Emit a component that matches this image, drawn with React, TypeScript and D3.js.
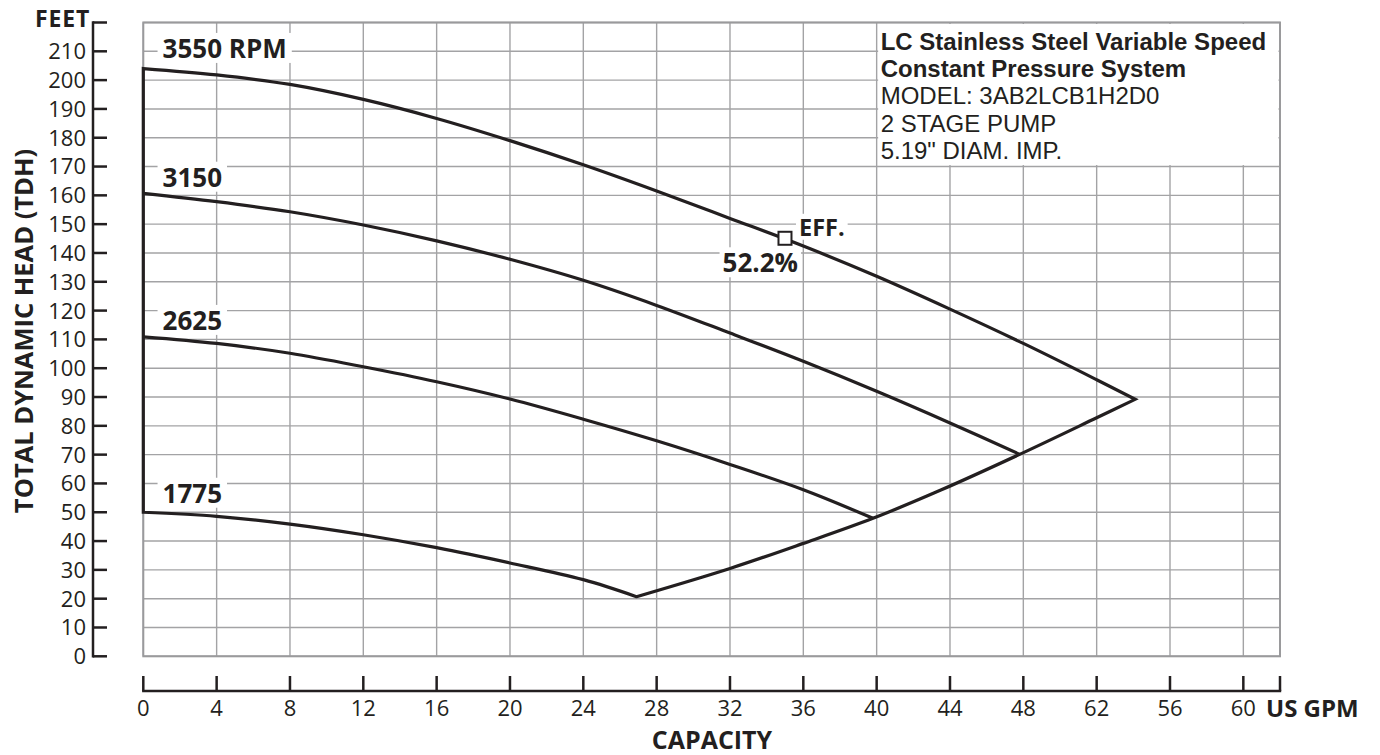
import React, { useEffect, useRef } from "react";
import * as d3 from "d3";

// pump curves, [gpm, feet]
const rpm3550 = [
  [0, 204], [4, 201.8], [8, 198.5], [12, 193.3], [16, 186.7], [20, 179], [24, 170.6],
  [28, 161.5], [32, 152], [36, 142.4], [40, 131.9], [44, 120.5], [48, 108.6], [52, 96], [54.1, 89.2],
];
const rpm3150 = [
  [0, 160.7], [4, 157.8], [8, 154.3], [12, 149.7], [16, 144.2], [20, 137.8], [24, 130.5],
  [28, 121.8], [32, 112.2], [36, 102.4], [40, 92], [44, 81], [47.8, 70.1],
];
const rpm2625 = [
  [0, 110.9], [4, 108.6], [8, 105.2], [12, 100.5], [16, 95.3], [20, 89.3], [24, 82.3],
  [28, 74.8], [32, 66.6], [36, 57.8], [39.8, 47.9],
];
const rpm1775 = [
  [0, 50], [4, 48.6], [8, 45.9], [12, 42.2], [16, 37.7], [20, 32.4], [24, 26.6], [26.9, 20.7],
];
// end-of-curve line
const endLine = [
  [26.9, 20.7], [32, 30.5], [36, 39.2], [39.8, 47.9], [43.5, 57.7], [47.8, 70.1], [52, 82.8], [54.1, 89.2],
];

const curveLabels = [
  { text: "3550 RPM", q: 1.05, h: 207.7 },
  { text: "3150", q: 1.05, h: 163 },
  { text: "2625", q: 1.05, h: 113.3 },
  { text: "1775", q: 1.05, h: 53.3 },
];

const effPoint = { q: 35, h: 145.1, label: "EFF.", value: "52.2%" };

const xTicks = d3.range(0, 61, 4);
const xTickLabels = ["0", "4", "8", "12", "16", "20", "24", "28", "32", "36", "40", "44", "48", "62", "56", "60"];
const yTicks = d3.range(0, 211, 10);

const infoLines = [
  { text: "LC Stainless Steel Variable Speed", bold: true },
  { text: "Constant Pressure System", bold: true },
  { text: "MODEL: 3AB2LCB1H2D0", bold: false },
  { text: "2 STAGE PUMP", bold: false },
  { text: '5.19" DIAM. IMP.', bold: false },
];

const FONT = "'Open Sans', 'Noto Sans', sans-serif";
const INFO_FONT = "'Liberation Sans', Arial, sans-serif";
const INK = "#231f20";

export default function App() {
  const ref = useRef<SVGSVGElement>(null);

  useEffect(() => {
    const svg = d3.select(ref.current);
    svg.selectAll("*").remove();

    const x = d3.scaleLinear().domain([0, 62]).range([143.3, 1280]);
    const y = d3.scaleLinear().domain([0, 220]).range([656.3, 22.5]);

    const g = svg.append("g").attr("font-family", FONT).attr("fill", INK);

    // grid
    const grid = g.append("g").attr("stroke", "#a3a3a5").attr("stroke-width", 1.4);
    grid.selectAll("line.h").data(d3.range(0, 221, 10)).enter().append("line")
      .attr("x1", x(0)).attr("x2", x(62)).attr("y1", (d) => y(d)).attr("y2", (d) => y(d));
    grid.selectAll("line.v").data(xTicks).enter().append("line")
      .attr("x1", (d) => x(d)).attr("x2", (d) => x(d)).attr("y1", y(0)).attr("y2", y(220));
    g.append("rect")
      .attr("x", x(0)).attr("y", y(220)).attr("width", x(62) - x(0)).attr("height", y(0) - y(220))
      .attr("fill", "none").attr("stroke", "#9a9a9c").attr("stroke-width", 2);

    // info box
    g.append("rect")
      .attr("x", x(40) + 1.5).attr("y", y(220) + 1.5)
      .attr("width", x(62) - x(40) - 3).attr("height", y(170) - y(220) - 3)
      .attr("fill", "#fff");
    g.append("g").attr("font-family", INFO_FONT)
      .selectAll("text").data(infoLines).enter().append("text")
      .attr("x", x(40) + 4)
      .attr("y", (d, i) => 49.5 + i * 27.4)
      .attr("font-size", 24)
      .attr("font-weight", (d) => (d.bold ? 700 : 400))
      .text((d) => d.text);

    // curves
    const line = d3.line().x((d) => x(d[0])).y((d) => y(d[1])).curve(d3.curveCatmullRom.alpha(0.5));
    const straight = d3.line().x((d) => x(d[0])).y((d) => y(d[1]));
    const join = (parts: string[]) => parts.map((p, i) => (i === 0 ? p : "L" + p.slice(1))).join("");

    const outline = join([
      straight([[0, rpm1775[0][1]], [0, rpm3550[0][1]]] as any)!,
      line(rpm3550 as any)!,
      line(endLine.slice().reverse() as any)!,
      line(rpm1775.slice().reverse() as any)!,
    ]) + "Z";

    const curves = g.append("g").attr("fill", "none").attr("stroke", INK).attr("stroke-width", 3.2)
      .attr("stroke-linejoin", "miter").attr("stroke-miterlimit", 20);
    curves.append("path").attr("d", outline);
    curves.append("path").attr("d", line(rpm3150 as any));
    curves.append("path").attr("d", line(rpm2625 as any));

    // curve labels with white backing
    curveLabels.forEach((c) => {
      const t = g.append("text")
        .attr("x", x(c.q)).attr("y", y(c.h))
        .attr("font-size", 26).attr("font-weight", 700)
        .text(c.text);
      const b = (t.node() as SVGTextElement).getBBox();
      g.insert("rect", () => t.node())
        .attr("x", b.x - 5).attr("y", b.y + 3).attr("width", b.width + 10).attr("height", b.height - 6)
        .attr("fill", "#fff");
    });

    // efficiency point
    const ex = x(effPoint.q), ey = y(effPoint.h);
    const eff = g.append("text").attr("x", ex + 14).attr("y", ey - 2.5)
      .attr("font-size", 23.5).attr("font-weight", 700).text(effPoint.label);
    const pct = g.append("text").attr("x", ex + 13).attr("y", ey + 34).attr("text-anchor", "end")
      .attr("font-size", 26).attr("font-weight", 700).text(effPoint.value);
    [eff, pct].forEach((t) => {
      const b = (t.node() as SVGTextElement).getBBox();
      g.insert("rect", () => t.node())
        .attr("x", b.x - 3).attr("y", b.y + 3).attr("width", b.width + 6).attr("height", b.height - 6)
        .attr("fill", "#fff");
    });
    g.append("rect").attr("x", ex - 6.5).attr("y", ey - 6.5).attr("width", 13).attr("height", 13)
      .attr("fill", "#fff").attr("stroke", INK).attr("stroke-width", 2);

    // y axis
    const ya = g.append("g");
    ya.append("line").attr("x1", 93).attr("x2", 93).attr("y1", y(220) - 1.2).attr("y2", y(0) + 1.2)
      .attr("stroke", INK).attr("stroke-width", 2.5);
    ya.selectAll("line.t").data([...yTicks, 220]).enter().append("line")
      .attr("x1", 93).attr("x2", 107).attr("y1", (d) => y(d)).attr("y2", (d) => y(d))
      .attr("stroke", INK).attr("stroke-width", 2.5);
    ya.selectAll("text").data(yTicks).enter().append("text")
      .attr("x", 86).attr("y", (d) => y(d)).attr("dy", "0.36em")
      .attr("text-anchor", "end").attr("font-size", 22).text((d) => String(d));
    ya.append("text").attr("x", 90).attr("y", 27).attr("text-anchor", "end")
      .attr("font-size", 23).attr("font-weight", 700).attr("letter-spacing", 0.8).text("FEET");
    ya.append("text")
      .attr("transform", `translate(33,331) rotate(-90)`)
      .attr("text-anchor", "middle").attr("font-size", 25.5).attr("font-weight", 700)
      .text("TOTAL DYNAMIC HEAD (TDH)");

    // x axis
    const xa = g.append("g");
    const axisY = 691;
    xa.append("line").attr("x1", x(0) - 1.2).attr("x2", x(62) + 1.2).attr("y1", axisY).attr("y2", axisY)
      .attr("stroke", INK).attr("stroke-width", 2.5);
    xa.selectAll("line.t").data([...xTicks, 62]).enter().append("line")
      .attr("x1", (d) => x(d)).attr("x2", (d) => x(d)).attr("y1", axisY).attr("y2", axisY - 15)
      .attr("stroke", INK).attr("stroke-width", 2.5);
    xa.selectAll("text").data(xTicks).enter().append("text")
      .attr("x", (d) => x(d)).attr("y", 716).attr("text-anchor", "middle")
      .attr("font-size", 22).text((d, i) => xTickLabels[i]);
    xa.append("text").attr("x", 1266).attr("y", 717).attr("font-size", 24).attr("font-weight", 700)
      .text("US GPM");
    xa.append("text").attr("x", 712).attr("y", 749).attr("text-anchor", "middle")
      .attr("font-size", 25).attr("font-weight", 700).text("CAPACITY");
  }, []);

  return (
    <svg
      ref={ref}
      width={1380}
      height={755}
      style={{ position: "absolute", left: 0, top: 0, background: "#fff" }}
    />
  );
}
